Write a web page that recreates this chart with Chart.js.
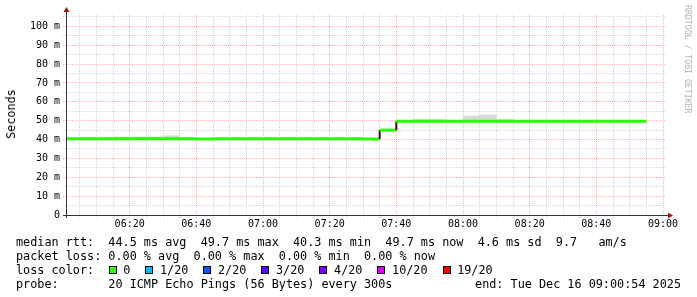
<!DOCTYPE html>
<html>
<head>
<meta charset="utf-8">
<script src="https://cdn.jsdelivr.net/npm/chart.js@4.4.1/dist/chart.umd.min.js"></script>
<style>
  body { margin: 0; background: #fff; }
  #wrap { position: relative; width: 697px; height: 297px; overflow: hidden;
          font-family: 'DejaVu Sans Mono', monospace; font-size: 11.8px; color: #000; }
  canvas { position: absolute; left: 0; top: 0; }
  .row { position: absolute; left: 16px; white-space: pre; line-height: 14px; }
  .item { display: inline-block; margin-right: 15px; }
  .box { display: inline-block; width: 6px; height: 6px; border: 1px solid #000; margin-right: 6.6px; }
  #ytitle { position: absolute; left: 11px; top: 114px; white-space: nowrap; line-height: 14px;
            transform: translate(-50%, -50%) rotate(-90deg); }
  #mark { position: absolute; left: 693px; top: 5px; white-space: nowrap; font-size: 8.2px; line-height: 10px;
          color: #b4b4b4; transform-origin: 0 0; transform: rotate(90deg); }
</style>
</head>
<body>
<div id="wrap">
  <canvas id="chart" width="697" height="297"></canvas>
  <div id="ytitle">Seconds</div>
  <div id="mark">RRDTOOL / TOBI OETIKER</div>
  <div class="row" id="rtt" style="top:234.5px"></div>
  <div class="row" id="loss" style="top:249px"></div>
  <div class="row" style="top:262.5px">loss color:</div>
  <div class="row" id="colors" style="top:262.5px;left:108.7px"></div>
  <div class="row" id="probe" style="top:276.5px"></div>
  <div class="row" id="end" style="top:276.5px;left:auto;right:16px"></div>
</div>
<script>
// 5 minute slots (start time of each slot)
const slotTimes = ['06:00','06:05','06:10','06:15','06:20','06:25','06:30','06:35','06:40','06:45','06:50','06:55',
                   '07:00','07:05','07:10','07:15','07:20','07:25','07:30','07:35','07:40','07:45','07:50','07:55',
                   '08:00','08:05','08:10','08:15','08:20','08:25','08:30','08:35','08:40','08:45','08:50'];
// median rtt in ms
const medianRtt = [40.4,40.4,40.4,40.4,40.4,40.4,40.4,40.4,40.3,40.4,40.4,40.4,
                   40.4,40.4,40.4,40.4,40.4,40.4,40.3,45.0,49.7,49.7,49.7,49.7,
                   49.7,49.7,49.7,49.7,49.7,49.7,49.7,49.7,49.7,49.7,49.7];
// smoke: lowest and highest ping of the slot
const smokeMin = [40.0,40.0,40.0,40.0,40.0,40.0,40.0,40.0,39.9,40.0,40.0,40.0,
                  40.0,40.0,40.0,40.0,40.0,40.0,39.9,44.6,49.3,49.3,49.3,49.3,
                  49.3,49.3,49.3,49.3,49.3,49.3,49.3,49.3,49.3,49.3,49.3];
const smokeMax = [40.9,40.9,40.9,41.6,41.6,41.6,42.1,40.9,40.8,40.9,40.9,40.9,
                  40.9,40.9,40.9,40.9,40.9,40.9,40.8,45.5,50.2,50.9,50.9,50.2,
                  52.8,53.2,50.9,50.2,50.2,50.2,50.2,50.2,50.2,50.2,50.2];

const xLabels = ['06:20','06:40','07:00','07:20','07:40','08:00','08:20','08:40','09:00'];
const yMajor = [0,10,20,30,40,50,60,70,80,90,100];
const yLabels = ['0','10 m','20 m','30 m','40 m','50 m','60 m','70 m','80 m','90 m','100 m'];

const rttStats = ['44.5 ms avg','49.7 ms max','40.3 ms min','49.7 ms now','4.6 ms sd','9.7   am/s'];
const lossStats = ['0.00 % avg','0.00 % max','0.00 % min','0.00 % now'];
const lossLabels = ['0','1/20','2/20','3/20','4/20','10/20','19/20'];
const lossColors = ['#26ff00','#00b8ff','#0059ff','#5e00ff','#7e00ff','#dd00ff','#ff0000'];
const probeText = '20 ICMP Echo Pings (56 Bytes) every 300s';
const endText = 'end: Tue Dec 16 09:00:54 2025';

document.getElementById('rtt').textContent = 'median rtt:  ' + rttStats.join('  ');
document.getElementById('loss').textContent = 'packet loss: ' + lossStats.join('  ');
document.getElementById('colors').innerHTML = lossLabels.map((l, i) =>
  '<span class="item"><span class="box" style="background:' + lossColors[i] + '"></span>' + l + '</span>').join('');
document.getElementById('probe').textContent = 'probe:       ' + probeText;
document.getElementById('end').textContent = endText;

function toMin(t) { const p = t.split(':'); return +p[0] * 60 + +p[1]; }
// each slot is drawn as a flat step over its 5 minutes
function steps(vals) {
  const pts = [];
  slotTimes.forEach((t, i) => {
    pts.push({ x: toMin(t), y: vals[i] });
    pts.push({ x: toMin(t) + 5, y: vals[i] });
  });
  return pts;
}

const xMajor = xLabels.map(toMin);
const startMin = toMin('06:00') + 54 / 60;
const endMin = toMin('09:00') + 54 / 60;
const green = lossColors[0];
const gridGray = 'rgba(128,128,128,0.32)';
const gridRed = 'rgba(220,0,0,0.28)';

const axisPlugin = {
  id: 'axes',
  afterDatasetsDraw(c) {
    const ctx = c.ctx, a = c.chartArea;
    ctx.save();
    ctx.strokeStyle = '#333';
    ctx.lineWidth = 1;
    ctx.beginPath();
    ctx.moveTo(a.left - 3, a.bottom + 0.5);
    ctx.lineTo(a.right + 4, a.bottom + 0.5);
    ctx.moveTo(a.left + 0.5, a.bottom + 3);
    ctx.lineTo(a.left + 0.5, a.top - 3);
    ctx.stroke();
    ctx.fillStyle = '#9a1c1c';
    ctx.beginPath();
    ctx.moveTo(a.right + 2, a.bottom - 2.5);
    ctx.lineTo(a.right + 7, a.bottom + 0.5);
    ctx.lineTo(a.right + 2, a.bottom + 3.5);
    ctx.fill();
    ctx.beginPath();
    ctx.moveTo(a.left - 2.5, a.top - 3);
    ctx.lineTo(a.left + 0.5, a.top - 8);
    ctx.lineTo(a.left + 3.5, a.top - 3);
    ctx.fill();
    ctx.restore();
  }
};

new Chart(document.getElementById('chart'), {
  type: 'line',
  data: {
    datasets: [
      {
        label: 'median rtt',
        data: steps(medianRtt),
        borderColor: green,
        borderWidth: 3,
        pointRadius: 0,
        fill: false,
        clip: 0,
        order: 0,
        segment: {
          borderColor: s => Math.abs(s.p0.y - s.p1.y) > 1 ? '#2a1a1a' : green,
          borderWidth: s => Math.abs(s.p0.y - s.p1.y) > 1 ? 2 : 3
        }
      },
      {
        label: 'smoke min',
        data: steps(smokeMin),
        borderWidth: 0,
        pointRadius: 0,
        fill: false,
        clip: 0,
        order: 2
      },
      {
        label: 'smoke max',
        data: steps(smokeMax),
        borderWidth: 0,
        pointRadius: 0,
        backgroundColor: '#d9d9d9',
        fill: '-1',
        clip: 0,
        order: 1
      }
    ]
  },
  options: {
    responsive: false,
    animation: false,
    devicePixelRatio: 1,
    layout: { padding: { left: 0, top: 15, right: 31, bottom: 0 } },
    plugins: { legend: { display: false }, tooltip: { enabled: false } },
    elements: { line: { tension: 0 } },
    scales: {
      x: {
        type: 'linear',
        min: startMin,
        max: endMin,
        afterBuildTicks(s) {
          const t = [];
          for (let v = 365; v <= 540; v += 5) t.push({ value: v });
          s.ticks = t;
        },
        afterFit(s) { s.height = 82; },
        ticks: {
          autoSkip: false,
          maxRotation: 0,
          padding: 0,
          color: '#000',
          font: { family: 'DejaVu Sans Mono', size: 10 },
          callback: v => { const i = xMajor.indexOf(v); return i >= 0 ? xLabels[i] : ''; }
        },
        grid: {
          color: c => c.tick && xMajor.includes(c.tick.value) ? gridRed : gridGray,
          lineWidth: 1,
          tickLength: 3,
          tickBorderDash: [1, 1]
        },
        border: { display: false, dash: [1, 1] }
      },
      y: {
        type: 'linear',
        min: 0,
        max: 106,
        afterBuildTicks(s) {
          const t = [];
          for (let v = 0; v <= 105; v += 5) t.push({ value: v });
          s.ticks = t;
        },
        afterFit(s) { s.width = 66; },
        ticks: {
          autoSkip: false,
          padding: 3,
          color: '#000',
          font: { family: 'DejaVu Sans Mono', size: 10 },
          callback: v => { const i = yMajor.indexOf(v); return i >= 0 ? yLabels[i] : ''; }
        },
        grid: {
          color: c => c.tick && yMajor.includes(c.tick.value) ? gridRed : gridGray,
          lineWidth: 1,
          tickLength: 3,
          tickBorderDash: [1, 1]
        },
        border: { display: false, dash: [1, 1] }
      }
    }
  },
  plugins: [axisPlugin]
});
</script>
</body>
</html>
